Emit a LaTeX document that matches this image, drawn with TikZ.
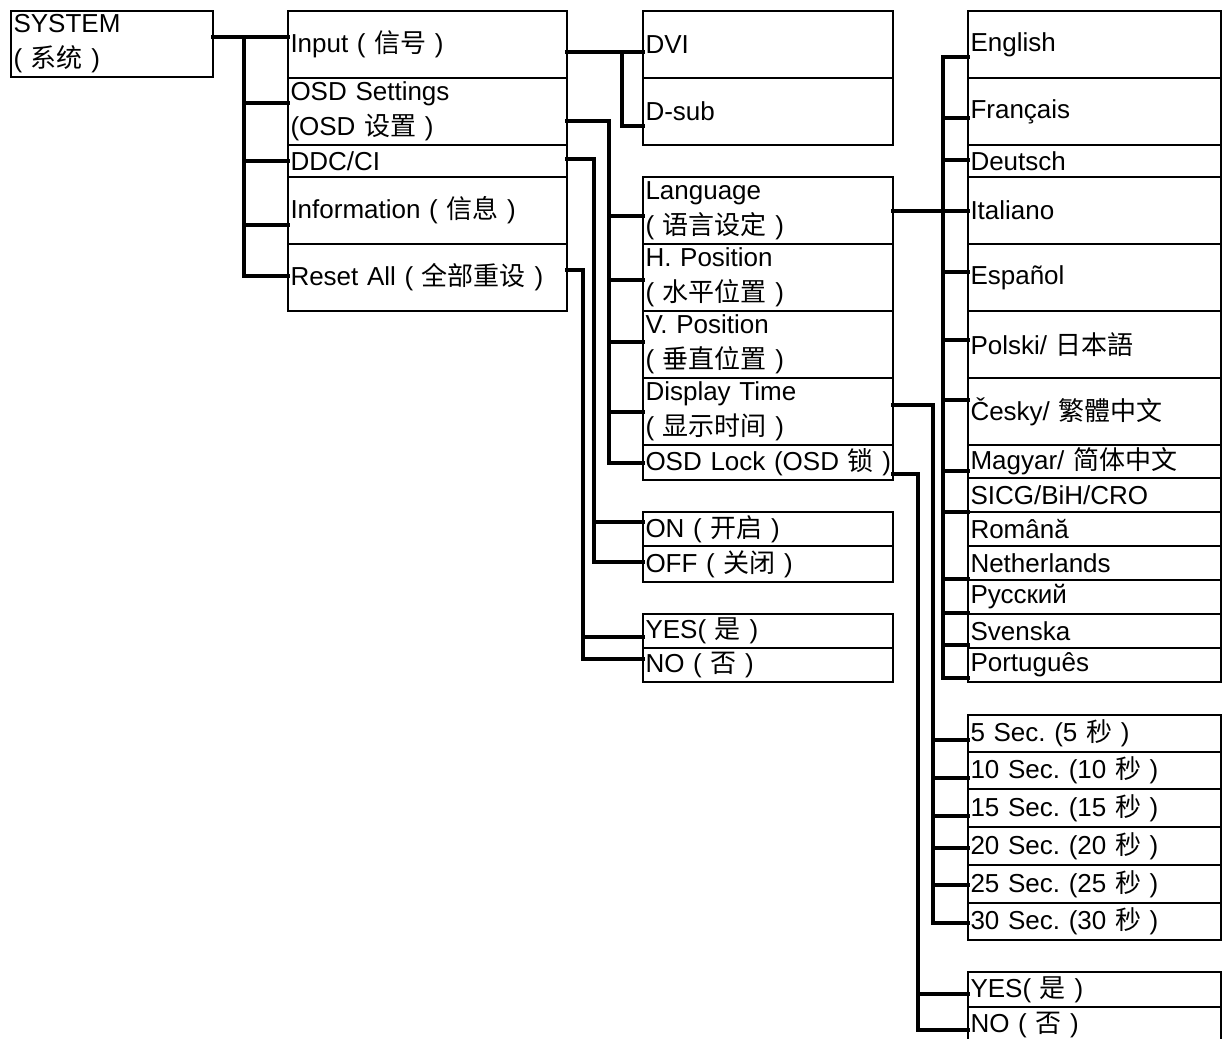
\documentclass[tikz,border=0pt]{standalone}
\usepackage{fontspec}
\setmainfont{Liberation Sans}
\newfontfamily\cjk{Noto Sans CJK SC}
\newcommand\txl[1]{\mbox{#1}}
\frenchspacing
\begin{document}
\frenchspacing
\begin{tikzpicture}[x=1pt,y=-1pt,
  box/.style={draw, line width=1.8pt, anchor=north west, inner xsep=2.5pt,
    inner ysep=0pt, outer sep=0pt, align=left, font=\fontsize{26}{35}\selectfont\frenchspacing},
  colA/.style={minimum width=202pt, text width=197pt},
  colB/.style={minimum width=279pt, text width=274pt},
  colC/.style={minimum width=250pt, text width=245pt},
  colD/.style={minimum width=253pt, text width=248pt},
  conn/.style={line width=3.2pt, line cap=rect, line join=miter}]
\path[use as bounding box, fill=white] (0,0) rectangle (1224,1039);

% ---- root
\node[box,colA,minimum height=66pt] (sys) at (11,11) {\txl{SYSTEM}\\\txl{( {\cjk 系统} )}};

% ---- column B
\node[box,colB,minimum height=67pt] (inp)  at (288,11)  {\txl{Input ( {\cjk 信号} )}};
\node[box,colB,minimum height=67pt] (osd)  at (288,78)  {\txl{OSD Settings}\\\txl{(OSD {\cjk 设置} )}};
\node[box,colB,minimum height=32pt] (ddc)  at (288,145) {\txl{DDC/CI}};
\node[box,colB,minimum height=67pt] (info) at (288,177) {\txl{Information ( {\cjk 信息} )}};
\node[box,colB,minimum height=67pt] (rst)  at (288,244) {\txl{Reset All ( {\cjk 全部重设} )}};

% ---- column C
\node[box,colC,minimum height=67pt] (dvi)   at (643,11)  {\txl{DVI}};
\node[box,colC,minimum height=67pt] (dsub)  at (643,78)  {\txl{D-sub}};
\node[box,colC,minimum height=67pt] (lang)  at (643,177) {\txl{Language}\\\txl{( {\cjk 语言设定} )}};
\node[box,colC,minimum height=67pt] (hpos)  at (643,244) {\txl{H. Position}\\\txl{( {\cjk 水平位置} )}};
\node[box,colC,minimum height=67pt] (vpos)  at (643,311) {\txl{V. Position}\\\txl{( {\cjk 垂直位置} )}};
\node[box,colC,minimum height=67pt] (dtime) at (643,378) {\txl{Display Time}\\\txl{( {\cjk 显示时间} )}};
\node[box,colC,minimum height=35pt] (lock)  at (643,445) {\txl{OSD Lock (OSD {\cjk 锁} )}};
\node[box,colC,minimum height=34pt] (on)    at (643,512) {\txl{ON ( {\cjk 开启} )}};
\node[box,colC,minimum height=36pt] (off)   at (643,546) {\txl{OFF ( {\cjk 关闭} )}};
\node[box,colC,minimum height=34pt] (yes1)  at (643,614) {\txl{YES( {\cjk 是} )}};
\node[box,colC,minimum height=34pt] (no1)   at (643,648) {\txl{NO ( {\cjk 否} )}};

% ---- column D
\node[box,colD,minimum height=67pt] (en)   at (968,11)  {\txl{English}};
\node[box,colD,minimum height=67pt] (fr)   at (968,78)  {\txl{Français}};
\node[box,colD,minimum height=32pt] (de)   at (968,145) {\txl{Deutsch}};
\node[box,colD,minimum height=67pt] (it)   at (968,177) {\txl{Italiano}};
\node[box,colD,minimum height=67pt] (es)   at (968,244) {\txl{Español}};
\node[box,colD,minimum height=67pt] (pl)   at (968,311) {\txl{Polski/ {\cjk 日本語}}};
\node[box,colD,minimum height=67pt] (cz)   at (968,378) {\txl{Česky/ {\cjk 繁體中文}}};
\node[box,colD,minimum height=33pt] (hu)   at (968,445) {\txl{Magyar/ {\cjk 简体中文}}};
\node[box,colD,minimum height=34pt] (sicg) at (968,478) {\txl{SICG/BiH/CRO}};
\node[box,colD,minimum height=34pt] (ro)   at (968,512) {\txl{Română}};
\node[box,colD,minimum height=34pt] (nl)   at (968,546) {\txl{Netherlands}};
\node[box,colD,minimum height=34pt] (ru)   at (968,580) {\txl{Русский}};
\node[box,colD,minimum height=34pt] (sv)   at (968,614) {\txl{Svenska}};
\node[box,colD,minimum height=34pt] (pt)   at (968,648) {\txl{Português}};

\node[box,colD,minimum height=37pt] (s5)  at (968,715) {\txl{5 Sec. (5 {\cjk 秒} )}};
\node[box,colD,minimum height=37pt] (s10) at (968,752) {\txl{10 Sec. (10 {\cjk 秒} )}};
\node[box,colD,minimum height=38pt] (s15) at (968,789) {\txl{15 Sec. (15 {\cjk 秒} )}};
\node[box,colD,minimum height=38pt] (s20) at (968,827) {\txl{20 Sec. (20 {\cjk 秒} )}};
\node[box,colD,minimum height=38pt] (s25) at (968,865) {\txl{25 Sec. (25 {\cjk 秒} )}};
\node[box,colD,minimum height=37pt] (s30) at (968,903) {\txl{30 Sec. (30 {\cjk 秒} )}};

\node[box,colD,minimum height=35pt] (yes2) at (968,972)  {\txl{YES( {\cjk 是} )}};
\node[box,colD,minimum height=35pt] (no2)  at (968,1007) {\txl{NO ( {\cjk 否} )}};

% ---- bus positions
\coordinate (b1) at (244,0);
\coordinate (b2) at (622,0);
\coordinate (b3) at (609,0);
\coordinate (b4) at (594,0);
\coordinate (b5) at (583,0);
\coordinate (b6) at (943,0);
\coordinate (b7) at (933,0);
\coordinate (b8) at (918,0);

% ---- attachment points
\coordinate (sys-out)  at ([yshift=7pt]sys.east);
\coordinate (inp-out)  at ([yshift=-7.5pt]inp.east);
\coordinate (osd-in)   at ([yshift=8.5pt]osd.west);
\coordinate (osd-out)  at ([yshift=-9.5pt]osd.east);
\coordinate (ddc-in)   at ([yshift=0pt]ddc.west);
\coordinate (ddc-out)  at ([yshift=2pt]ddc.east);
\coordinate (info-in)  at ([yshift=-14.5pt]info.west);
\coordinate (rst-in)   at ([yshift=1.5pt]rst.west);
\coordinate (rst-out)  at ([yshift=7.5pt]rst.east);
\coordinate (dsub-in)  at ([yshift=-14.5pt]dsub.west);
\coordinate (lang-in)  at ([yshift=-5.5pt]lang.west);
\coordinate (lang-out) at ([yshift=-0.5pt]lang.east);
\coordinate (hpos-in)  at ([yshift=-2.5pt]hpos.west);
\coordinate (vpos-in)  at ([yshift=2.5pt]vpos.west);
\coordinate (dtime-in) at ([yshift=-0.5pt]dtime.west);
\coordinate (dtime-out) at ([yshift=6.5pt]dtime.east);
\coordinate (lock-in)  at ([yshift=-0.5pt]lock.west);
\coordinate (lock-out) at ([yshift=-11.5pt]lock.east);
\coordinate (on-in)    at ([yshift=7pt]on.west);
\coordinate (off-in)   at ([yshift=2pt]off.west);
\coordinate (yes1-in)  at ([yshift=-6pt]yes1.west);
\coordinate (no1-in)   at ([yshift=6pt]no1.west);
\coordinate (en-in)    at ([yshift=-12.5pt]en.west);
\coordinate (fr-in)    at ([yshift=-6.5pt]fr.west);
\coordinate (de-in)    at ([yshift=1pt]de.west);
\coordinate (es-in)    at ([yshift=5.5pt]es.west);
\coordinate (pl-in)    at ([yshift=4.5pt]pl.west);
\coordinate (cz-in)    at ([yshift=11.5pt]cz.west);
\coordinate (hu-in)    at ([yshift=-9.5pt]hu.west);
\coordinate (sicg-in)  at ([yshift=-17pt]sicg.west);
\coordinate (nl-in)    at ([yshift=-16pt]nl.west);
\coordinate (ru-in)    at ([yshift=-16pt]ru.west);
\coordinate (sv-in)    at ([yshift=-14pt]sv.west);
\coordinate (pt-in)    at ([yshift=-13pt]pt.west);
\coordinate (s5-in)    at ([yshift=-6.5pt]s5.west);
\coordinate (s10-in)   at ([yshift=-7.5pt]s10.west);
\coordinate (s15-in)   at ([yshift=-8pt]s15.west);
\coordinate (s20-in)   at ([yshift=-2pt]s20.west);
\coordinate (s25-in)   at ([yshift=-1pt]s25.west);
\coordinate (s30-in)   at ([yshift=-1.5pt]s30.west);
\coordinate (yes2-in)  at ([yshift=-4.5pt]yes2.west);
\coordinate (no2-in)   at ([yshift=-5.5pt]no2.west);

% ---- SYSTEM tree
\draw[conn] (sys-out) -- (sys-out -| inp.west);
\draw[conn] (b1 |- sys-out) -- (b1 |- rst-in);
\foreach \n in {osd,ddc,info,rst} \draw[conn] (b1 |- \n-in) -- (\n-in);

% ---- Input
\draw[conn] (inp-out) -- (inp-out -| dvi.west);
\draw[conn] (b2 |- inp-out) -- (b2 |- dsub-in) -- (dsub-in);

% ---- OSD Settings
\draw[conn] (osd-out) -| (b3 |- lock-in) -- (lock-in);
\foreach \n in {lang,hpos,vpos,dtime} \draw[conn] (b3 |- \n-in) -- (\n-in);

% ---- DDC/CI
\draw[conn] (ddc-out) -| (b4 |- off-in) -- (off-in);
\draw[conn] (b4 |- on-in) -- (on-in);

% ---- Reset All
\draw[conn] (rst-out) -| (b5 |- no1-in) -- (no1-in);
\draw[conn] (b5 |- yes1-in) -- (yes1-in);

% ---- Language
\draw[conn] (lang-out) -- (lang-out -| it.west);
\draw[conn] (en-in) -| (b6 |- pt-in) -- (pt-in);
\foreach \n in {fr,de,es,pl,cz,hu,sicg,nl,ru,sv} \draw[conn] (b6 |- \n-in) -- (\n-in);

% ---- Display Time
\draw[conn] (dtime-out) -| (b7 |- s30-in) -- (s30-in);
\foreach \n in {s5,s10,s15,s20,s25} \draw[conn] (b7 |- \n-in) -- (\n-in);

% ---- OSD Lock
\draw[conn] (lock-out) -| (b8 |- no2-in) -- (no2-in);
\draw[conn] (b8 |- yes2-in) -- (yes2-in);
\end{tikzpicture}
\end{document}
